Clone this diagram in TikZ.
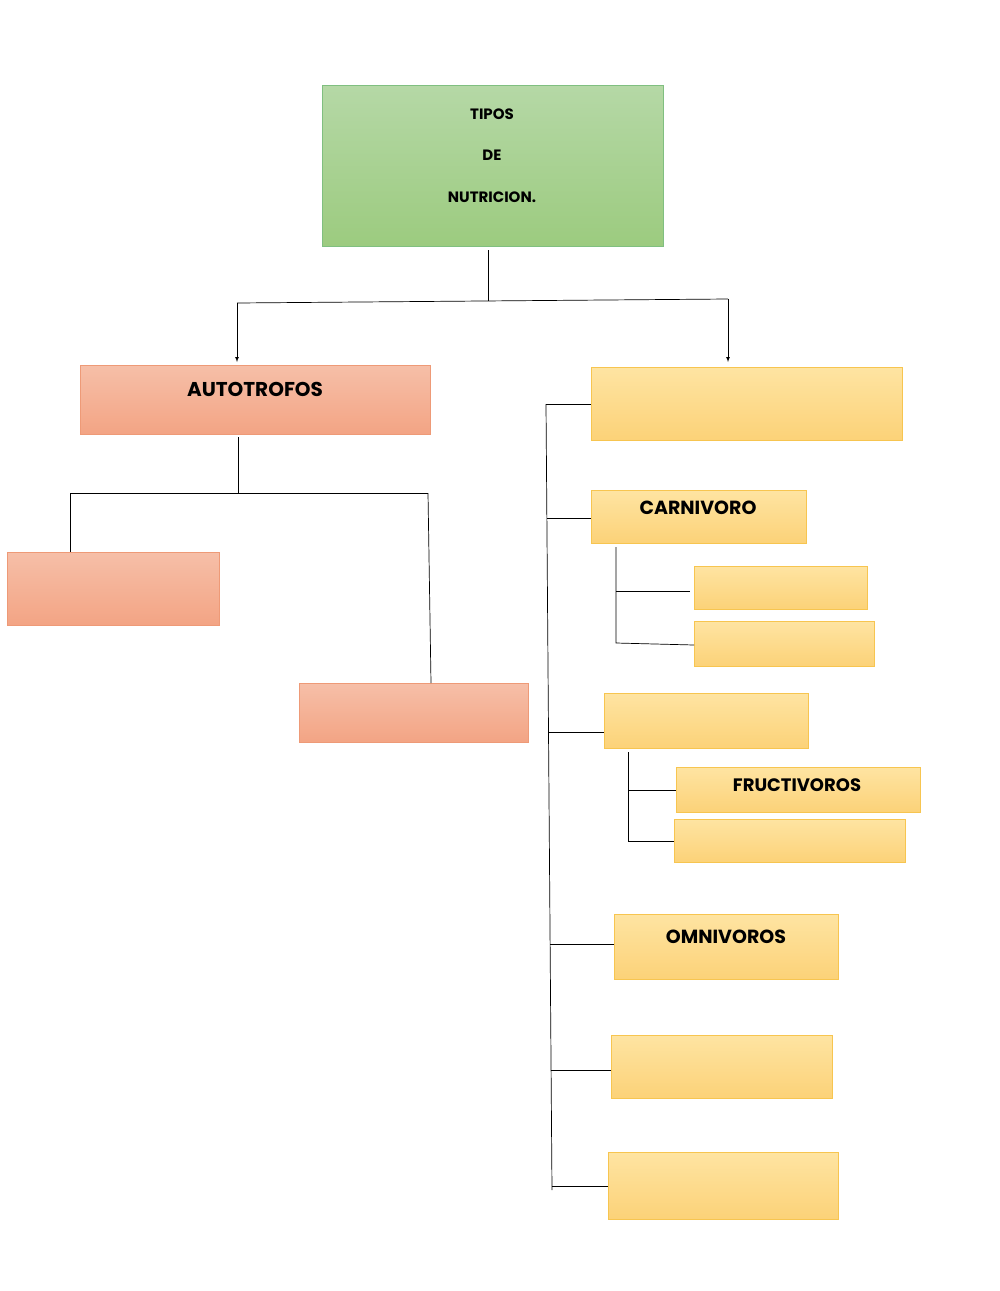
\documentclass[tikz,border=0pt]{standalone}
\usepackage{fontspec}
\setmainfont{Poppins}
\begin{document}
\begin{tikzpicture}[x=1pt,y=-1pt,
 bx/.style={draw,minimum width=#1,anchor=north west,inner sep=0pt},
 gbox/.style={draw=green!50!black!50, top color=green1, bottom color=green2},
 sbox/.style={draw=salmonb, top color=salmon1, bottom color=salmon2},
 ybox/.style={draw=yellowb, top color=yellow1, bottom color=yellow2},
 ln/.style={draw=black,line width=0.7pt},
 lbl/.style={font=\bfseries, text=black, inner sep=0pt}]
\definecolor{green1}{HTML}{B5D8A6}\definecolor{green2}{HTML}{9CCB7F}
\definecolor{salmon1}{HTML}{F6BFA8}\definecolor{salmon2}{HTML}{F3A484}
\definecolor{salmonb}{HTML}{EE9A77}
\definecolor{yellow1}{HTML}{FEE4A2}\definecolor{yellow2}{HTML}{FCD278}
\definecolor{yellowb}{HTML}{F7C550}
\useasboundingbox (0,0) rectangle (1000,1291);
\newcommand{\bxx}[6]{\node[#1,bx=#4-#2,minimum height=#5-#3] (#6) at (#2,#3) {};}
\bxx{gbox}{322}{85}{663}{246}{root}
\node[lbl,font=\bfseries\fontsize{15}{18}\selectfont] (t1) at (492,114) {TIPOS};
\node[lbl,font=\bfseries\fontsize{15}{18}\selectfont] (t2) at (492,155) {DE};
\node[lbl,font=\bfseries\fontsize{15}{18}\selectfont] (t3) at (492,197) {NUTRICION.};
\bxx{sbox}{80}{365}{430}{434}{auto}
\node[lbl,font=\bfseries\fontsize{20}{24}\selectfont] (ta) at (255,389) {AUTOTROFOS};
\bxx{sbox}{7}{552}{219}{625}{a1}
\bxx{sbox}{299}{683}{528}{742}{a2}
\bxx{ybox}{591}{367}{902}{440}{het}
\bxx{ybox}{591}{490}{806}{543}{carn}
\node[lbl,font=\bfseries\fontsize{19}{22}\selectfont] (tc) at (698,508) {CARNIVORO};
\bxx{ybox}{694}{566}{867}{609}{c1}
\bxx{ybox}{694}{621}{874}{666}{c2}
\bxx{ybox}{604}{693}{808}{748}{herb}
\bxx{ybox}{676}{767}{920}{812}{h1}
\node[lbl,font=\bfseries\fontsize{18}{22}\selectfont] (th) at (797,785) {FRUCTIVOROS};
\bxx{ybox}{674}{819}{905}{862}{h2}
\bxx{ybox}{614}{914}{838}{979}{omni}
\node[lbl,font=\bfseries\fontsize{19}{22}\selectfont] (to) at (726,937) {OMNIVOROS};
\bxx{ybox}{611}{1035}{832}{1098}{o1}
\bxx{ybox}{608}{1152}{838}{1219}{o2}
% connectors
\coordinate (j0) at (488,250); \coordinate (j1) at (488,301);
\coordinate (jl) at (237,303); \coordinate (jr) at (728,299);
\draw[ln] (j0) -- (j1);
\draw[ln] (jl) -- (jr);
\draw[ln,-latex] (jl) -- (237,362);
\draw[ln,-latex] (jr) -- (728,362);
\coordinate (k0) at (238,437); \coordinate (kl) at (70,493); \coordinate (kr) at (428,493);
\draw[ln] (k0) -- (238,493);
\draw[ln] (kl) -- (kr);
\draw[ln] (kl) -- (a1.north west -| kl);
\draw[ln] (kr) -- (431,683);
\coordinate (v0) at (546,404); \coordinate (v1) at (552,1190);
\draw[ln] (v0) -- (v1);
\draw[ln] (v0) -- (het.west |- v0);
\draw[ln] (547,518) -- (carn.west |- 0,518);
\draw[ln] (549,732) -- (herb.west |- 0,732);
\draw[ln] (550,944) -- (omni.west |- 0,944);
\draw[ln] (551,1070) -- (o1.west |- 0,1070);
\draw[ln] (552,1186) -- (o2.west |- 0,1186);
\draw[ln] (616,547) -- (616,643) -- (c2.west |- 0,645);
\draw[ln] (616,591) -- (690,591);
\draw[ln] (628,752) -- (628,841) -- (h2.west |- 0,841);
\draw[ln] (628,790) -- (h1.west |- 0,790);
\end{tikzpicture}
\end{document}
